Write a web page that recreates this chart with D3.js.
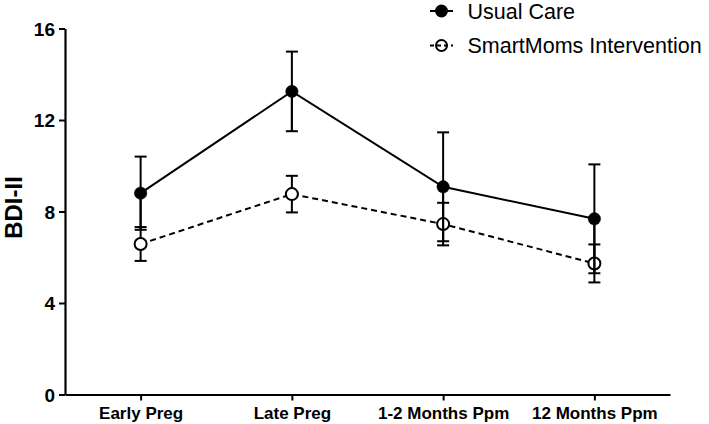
<!DOCTYPE html>
<html>
<head>
<meta charset="utf-8">
<script src="https://cdn.jsdelivr.net/npm/d3@7"></script>
<style>
  html, body { margin: 0; padding: 0; background: #fff; }
  svg { display: block; font-family: "Liberation Sans", Arial, sans-serif; }
</style>
</head>
<body>
<svg id="chart" width="709" height="424"></svg>
<script>
const categories = ["Early Preg", "Late Preg", "1-2 Months Ppm", "12 Months Ppm"];
const usualCareMean = [8.8, 13.25, 9.08, 7.68];
const usualCareErr = [1.6, 1.74, 2.38, 2.38];
const smartMomsMean = [6.58, 8.76, 7.45, 5.73];
const smartMomsErr = [0.74, 0.8, 0.93, 0.83];
const yTicks = [0, 4, 8, 12, 16];
const seriesNames = ["Usual Care", "SmartMoms Intervention"];

const svg = d3.select("#chart");
const mLeft = 65, mRight = 670, mTop = 28.5, mBottom = 394.5;

const x = d3.scalePoint().domain(categories).range([mLeft, mRight]).padding(0.5);
const y = d3.scaleLinear().domain([0, 16]).range([mBottom, mTop]);

// Axes
const yAxis = svg.append("g").attr("transform", `translate(${mLeft},0)`)
  .call(d3.axisLeft(y).tickValues(yTicks).tickSize(6).tickSizeOuter(0).tickPadding(4));
const xAxis = svg.append("g").attr("transform", `translate(0,${mBottom})`)
  .call(d3.axisBottom(x).tickSize(6).tickSizeOuter(0).tickPadding(6));

[yAxis, xAxis].forEach(g => {
  g.select(".domain").attr("stroke", "#000").attr("stroke-width", 2.2);
  g.selectAll(".tick line").attr("stroke", "#000").attr("stroke-width", 2);
  g.selectAll(".tick text").attr("fill", "#000").attr("font-weight", "bold")
    .attr("font-family", "Liberation Sans, Arial, sans-serif");
});
yAxis.selectAll(".tick text").attr("font-size", 19).attr("dy", "0.36em");
xAxis.selectAll(".tick text").attr("font-size", 17).attr("dy", "0.75em");

// Y label
svg.append("text")
  .attr("transform", `translate(21.5,207.5) rotate(-90)`)
  .attr("text-anchor", "middle")
  .attr("font-size", 24).attr("font-weight", "bold").attr("fill", "#000")
  .text("BDI-II");

function drawSeries(means, errs, dashed, filled) {
  const data = categories.map((c, i) => ({ c, m: means[i], e: errs[i] }));
  const g = svg.append("g");
  g.append("path").datum(data)
    .attr("fill", "none").attr("stroke", "#000").attr("stroke-width", 2)
    .attr("stroke-dasharray", dashed ? "6,4" : null)
    .attr("d", d3.line().x(d => x(d.c)).y(d => y(d.m)));
  const eb = g.selectAll(".eb").data(data).enter().append("g");
  eb.append("line")
    .attr("x1", d => x(d.c)).attr("x2", d => x(d.c))
    .attr("y1", d => y(d.m + d.e)).attr("y2", d => y(d.m - d.e))
    .attr("stroke", "#000").attr("stroke-width", 2);
  [1, -1].forEach(s => {
    eb.append("line")
      .attr("x1", d => x(d.c) - 6).attr("x2", d => x(d.c) + 6)
      .attr("y1", d => y(d.m + s * d.e)).attr("y2", d => y(d.m + s * d.e))
      .attr("stroke", "#000").attr("stroke-width", 2);
  });
  g.selectAll("circle").data(data).enter().append("circle")
    .attr("cx", d => x(d.c)).attr("cy", d => y(d.m))
    .attr("r", filled ? 6.2 : 6)
    .attr("fill", filled ? "#000" : "#fff")
    .attr("stroke", "#000").attr("stroke-width", filled ? 0.5 : 2);
}

drawSeries(smartMomsMean, smartMomsErr, true, false);
drawSeries(usualCareMean, usualCareErr, false, true);
// usual care error bars visible through the open circles
(function () {
  const data = categories.map((c, i) => ({ c, m: usualCareMean[i], e: usualCareErr[i] }));
  svg.append("g").selectAll("line").data(data).enter().append("line")
    .attr("x1", d => x(d.c)).attr("x2", d => x(d.c))
    .attr("y1", d => y(d.m)).attr("y2", d => y(d.m - d.e))
    .attr("stroke", "#000").attr("stroke-width", 2);
})();

// Legend
const legend = svg.append("g");
const legY = [11, 45.5];
seriesNames.forEach((name, i) => {
  const gy = legY[i];
  legend.append("line").attr("x1", 430).attr("x2", 453).attr("y1", gy).attr("y2", gy)
    .attr("stroke", "#000").attr("stroke-width", 2)
    .attr("stroke-dasharray", i === 1 ? "4,3" : null);
  legend.append("circle").attr("cx", 441.5).attr("cy", gy).attr("r", 5.5)
    .attr("fill", i === 0 ? "#000" : "none").attr("stroke", "#000").attr("stroke-width", 2);
  legend.append("text").attr("x", 467.5).attr("y", gy + 7.5)
    .attr("font-size", 21.5).attr("fill", "#000").text(name);
});
</script>
</body>
</html>
